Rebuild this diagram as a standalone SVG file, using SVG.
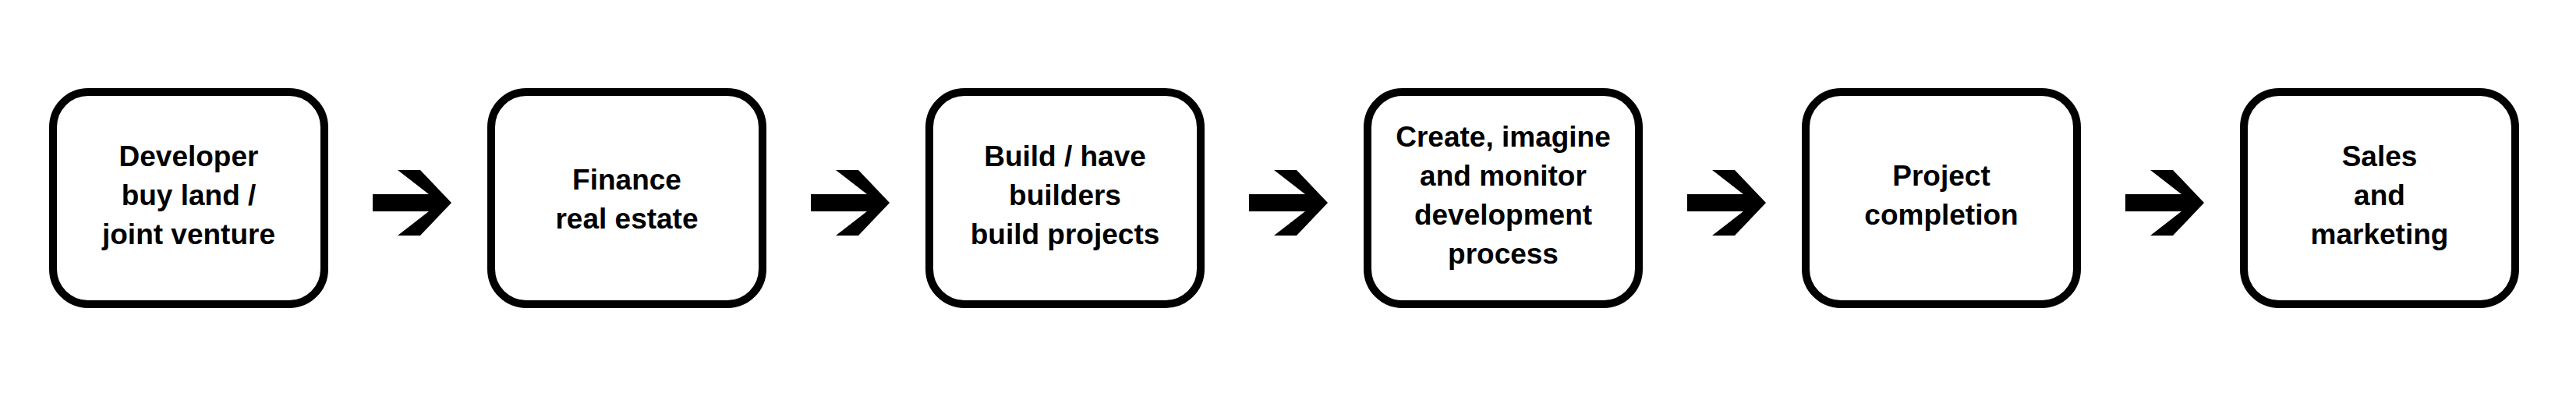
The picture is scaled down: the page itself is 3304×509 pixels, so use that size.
<svg xmlns="http://www.w3.org/2000/svg" width="3304" height="509" viewBox="0 0 3304 509">
<style>
.box{fill:#fff;stroke:#000;stroke-width:10}
.t{font-family:"Liberation Sans",Arial,sans-serif;font-weight:bold;font-size:37px;text-anchor:middle;fill:#000}
.arr{fill:#000}
</style>
<defs>
<path id="ar" d="M0,249 H72 L32,218 H61 L101,260 L61,302 H32 L72,271 H0 Z"/>
</defs>
<rect width="3304" height="509" fill="#fff"/>
<g id="connectors">
<use href="#ar" class="arr" x="478"/>
<use href="#ar" class="arr" x="1040"/>
<use href="#ar" class="arr" x="1602"/>
<use href="#ar" class="arr" x="2164"/>
<use href="#ar" class="arr" x="2726"/>
</g>
<g id="n1"><rect class="box" x="68" y="118" width="348" height="272" rx="45"/>
<text class="t" x="242" y="213">Developer</text><text class="t" x="242" y="263">buy land /</text><text class="t" x="242" y="313">joint venture</text></g>
<g id="n2"><rect class="box" x="630" y="118" width="348" height="272" rx="45"/>
<text class="t" x="804" y="243">Finance</text><text class="t" x="804" y="293">real estate</text></g>
<g id="n3"><rect class="box" x="1192" y="118" width="348" height="272" rx="45"/>
<text class="t" x="1366" y="213">Build / have</text><text class="t" x="1366" y="263">builders</text><text class="t" x="1366" y="313">build projects</text></g>
<g id="n4"><rect class="box" x="1754" y="118" width="348" height="272" rx="45"/>
<text class="t" x="1928" y="188">Create, imagine</text><text class="t" x="1928" y="238">and monitor</text><text class="t" x="1928" y="288">development</text><text class="t" x="1928" y="338">process</text></g>
<g id="n5"><rect class="box" x="2316" y="118" width="348" height="272" rx="45"/>
<text class="t" x="2490" y="238">Project</text><text class="t" x="2490" y="288">completion</text></g>
<g id="n6"><rect class="box" x="2878" y="118" width="348" height="272" rx="45"/>
<text class="t" x="3052" y="213">Sales</text><text class="t" x="3052" y="263">and</text><text class="t" x="3052" y="313">marketing</text></g>
</svg>
